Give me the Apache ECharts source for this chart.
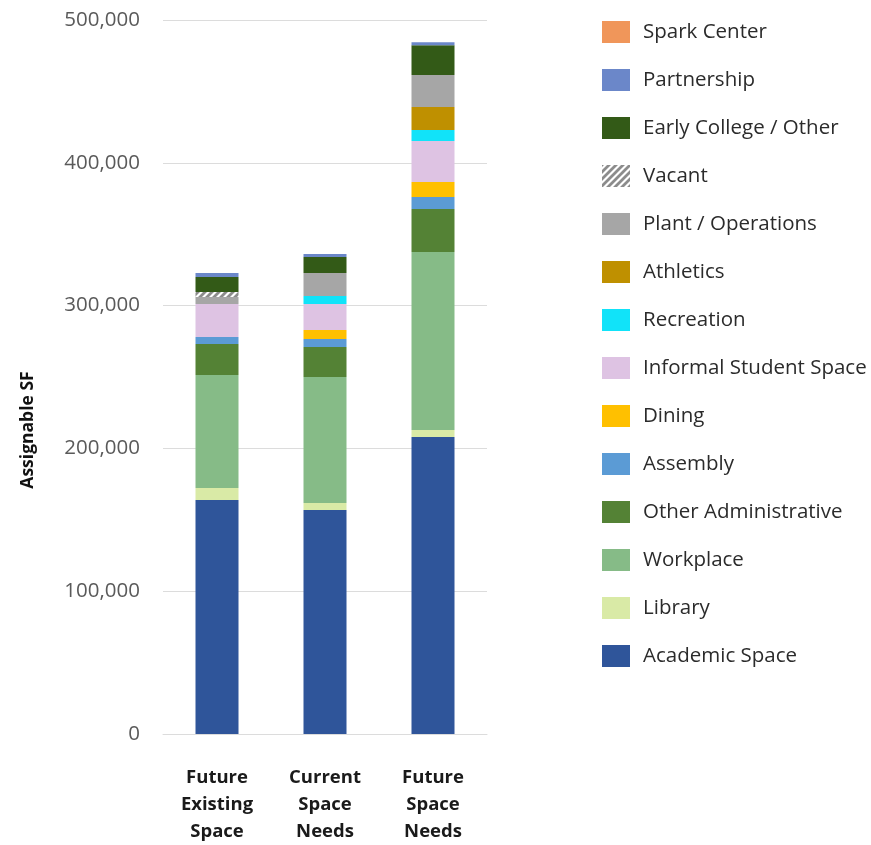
<!DOCTYPE html>
<html>
<head>
<meta charset="utf-8">
<script src="https://cdn.jsdelivr.net/npm/echarts@6/dist/echarts.min.js"></script>
<style>
  html, body { margin: 0; padding: 0; background: #fff; }
  #chart { width: 871px; height: 845px; }
</style>
</head>
<body>
<div id="chart"></div>
<script>
// categories (x axis)
var categories = ["Future\nExisting\nSpace", "Current\nSpace\nNeeds", "Future\nSpace\nNeeds"];

// series values, bottom of the stack first
var academicSpace = [163900, 156900, 208000];
var library = [8400, 4900, 4900];
var workplace = [79100, 88200, 124600];
var otherAdministrative = [21700, 21000, 30100];
var assembly = [4900, 5600, 8400];
var dining = [0, 6300, 10500];
var informalStudentSpace = [23100, 18200, 28700];
var recreation = [0, 5600, 7700];
var athletics = [0, 0, 16100];
var plantOperations = [4900, 16100, 22400];
var vacant = [3500, 0, 0];
var earlyCollege = [10500, 11200, 21000];
var partnership = [2800, 2100, 2100];
var sparkCenter = [0, 0, 0];

var yTicks = [0, 100000, 200000, 300000, 400000, 500000];

// hatch pattern for "Vacant"
function makeHatch() {
  var s = 7;
  var c = document.createElement("canvas");
  c.width = s;
  c.height = s;
  var ctx = c.getContext("2d");
  ctx.fillStyle = "#ffffff";
  ctx.fillRect(0, 0, s, s);
  ctx.strokeStyle = "#8c8c8c";
  ctx.lineWidth = 2.8;
  ctx.beginPath();
  ctx.moveTo(-1, s + 1); ctx.lineTo(s + 1, -1);
  ctx.moveTo(-1, 1); ctx.lineTo(1, -1);
  ctx.moveTo(s - 1, s + 1); ctx.lineTo(s + 1, s - 1);
  ctx.stroke();
  return c;
}

var stackDefs = [
  { name: "Academic Space", data: academicSpace, color: "#2F559A" },
  { name: "Library", data: library, color: "#D9EAA6" },
  { name: "Workplace", data: workplace, color: "#86BB87" },
  { name: "Other Administrative", data: otherAdministrative, color: "#548235" },
  { name: "Assembly", data: assembly, color: "#5B9BD5" },
  { name: "Dining", data: dining, color: "#FFC000" },
  { name: "Informal Student Space", data: informalStudentSpace, color: "#DEC3E3" },
  { name: "Recreation", data: recreation, color: "#11E3F9" },
  { name: "Athletics", data: athletics, color: "#BF9000" },
  { name: "Plant / Operations", data: plantOperations, color: "#A6A6A6" },
  { name: "Vacant", data: vacant, color: { image: makeHatch(), repeat: "repeat" } },
  { name: "Early College / Other", data: earlyCollege, color: "#335A17" },
  { name: "Partnership", data: partnership, color: "#6B87C9" },
  { name: "Spark Center", data: sparkCenter, color: "#F0965A" }
];

var chart = echarts.init(document.getElementById("chart"));

var option = {
  animation: false,
  backgroundColor: "#ffffff",
  grid: { left: 163, right: 384, top: 20, bottom: 103 },
  legend: {
    orient: "vertical",
    left: 597,
    top: 16,
    icon: "rect",
    itemWidth: 28,
    itemHeight: 22,
    itemGap: 26,
    selectedMode: false,
    data: stackDefs.map(function (d) { return d.name; }).reverse(),
    textStyle: {
      fontFamily: "Open Sans",
      fontSize: 20.5,
      color: "#2b2b2b",
      padding: [0, 0, 0, 8]
    }
  },
  xAxis: {
    type: "category",
    data: categories,
    axisTick: { show: false },
    axisLine: { show: true, lineStyle: { color: "#dcdcdc" } },
    axisLabel: {
      margin: 30,
      interval: 0,
      fontFamily: "Open Sans",
      fontWeight: "bold",
      fontSize: 18.5,
      lineHeight: 27,
      color: "#1a1a1a"
    }
  },
  yAxis: {
    type: "value",
    min: 0,
    max: 500000,
    interval: 100000,
    axisLine: { show: false },
    axisTick: { show: false },
    splitLine: { lineStyle: { color: "#dcdcdc" } },
    axisLabel: {
      margin: 23,
      fontFamily: "Open Sans",
      fontSize: 20.5,
      color: "#5a5a5a",
      formatter: function (v) {
        return yTicks.indexOf(v) >= 0 ? v.toLocaleString("en-US") : "";
      }
    }
  },
  graphic: [
    {
      type: "text",
      x: 28,
      y: 430,
      rotation: Math.PI / 2,
      style: {
        text: "Assignable SF",
        fontFamily: "Open Sans",
        fontWeight: "bold",
        fontSize: 17.5,
        fill: "#111",
        textAlign: "center",
        textVerticalAlign: "middle"
      }
    }
  ],
  series: stackDefs.map(function (d) {
    return {
      name: d.name,
      type: "bar",
      stack: "total",
      barWidth: 43,
      data: d.data,
      itemStyle: { color: d.color }
    };
  })
};

chart.setOption(option);
</script>
</body>
</html>
